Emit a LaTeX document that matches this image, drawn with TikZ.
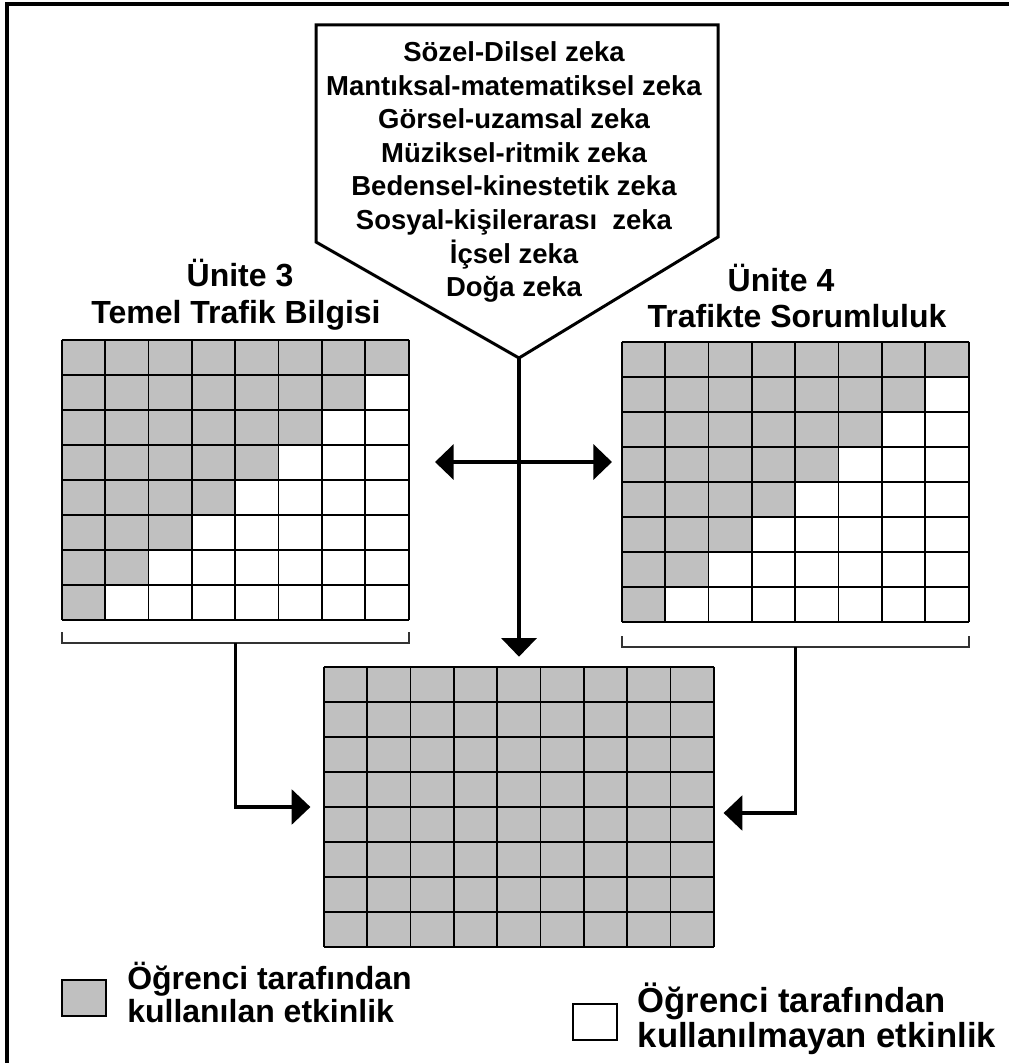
\documentclass[tikz,border=0pt]{standalone}
\usepackage{fontspec}
\setmainfont{Liberation Sans}
\usetikzlibrary{arrows.meta,positioning,calc}
\definecolor{usedgray}{HTML}{C0C0C0}

\tikzset{
  gridline/.style={line width=1.3pt},
  bigtip/.style={-{Triangle[width=26pt,length=14pt]}},
  mainarrow/.style={line width=3.6pt,bigtip},
  sidearrow/.style={line width=2.5pt,bigtip},
  brace/.style={line width=1.5pt,draw=black!80},
  unitgrid/.style={minimum width=260.25pt,minimum height=210pt,inner sep=0pt},
  title/.style={font=\fontsize{24}{30}\selectfont\bfseries,anchor=base,inner sep=0pt},
  legendbox/.style={draw,line width=1.5pt,minimum width=33pt,minimum height=27pt,inner sep=0pt},
  legend/.style={font=\fontsize{24}{24.75}\selectfont\bfseries,align=left,inner sep=0pt},
}

\begin{document}
\begin{tikzpicture}[x=0.75pt,y=-0.75pt]
  \useasboundingbox (0,0) rectangle (1009,1063);
  \draw[line width=3pt] (7,1063) -- (7,4) -- (1009,4);

  % intelligences
  \coordinate (tip) at (519,358);
  \draw[line width=2.25pt] (316,25) -- (718,25) -- (718,237) -- (tip) -- (316,242) -- cycle;
  \node[align=center,font=\fontsize{20.6}{25.2}\selectfont\bfseries] (zeka) at (514,172)
    {Sözel-Dilsel zeka\\Mantıksal-matematiksel zeka\\Görsel-uzamsal zeka\\Müziksel-ritmik zeka\\
     Bedensel-kinestetik zeka\\Sosyal-kişilerarası~~zeka\\İçsel zeka\\Doğa zeka};

  % grids
  \node[unitgrid] (u3) at (235.5,480) {};
  \node[unitgrid] (u4) at (795.5,482) {};
  \node[fill=usedgray,minimum width=292.5pt,minimum height=210pt,inner sep=0pt] (total) at (519,807) {};
  \foreach \g in {u3,u4}{
    \begin{scope}[shift={(\g.north west)},x=32.53pt,y=-26.25pt]
      \foreach \r in {0,...,7}
        \fill[usedgray] (0,\r) rectangle (8-\r,\r+1);
      \foreach \i in {0,...,8}{
        \draw[gridline] (\i,0) -- (\i,8);
        \draw[gridline] (0,\i) -- (8,\i);
      }
    \end{scope}
  }
  \begin{scope}[shift={(total.north west)},x=32.5pt,y=-26.25pt]
    \foreach \i in {0,...,9} \draw[gridline] (\i,0) -- (\i,8);
    \foreach \j in {0,...,8} \draw[gridline] (0,\j) -- (9,\j);
  \end{scope}

  % titles
  \node[title] (u3a) at (240,286) {Ünite 3};
  \node[title] (u3b) at (236,323) {Temel Trafik Bilgisi};
  \node[title] (u4a) at (781,291) {Ünite 4};
  \node[title] (u4b) at (797,327) {Trafikte Sorumluluk};

  % brackets
  \draw[brace] ([yshift=-9pt]u3.south west) -- ([yshift=-17pt]u3.south west)
    -- ([yshift=-17pt]u3.south east) -- ([yshift=-9pt]u3.south east);
  \draw[brace] ([yshift=-10.5pt]u4.south west) -- ([yshift=-18.75pt]u4.south west)
    -- ([yshift=-18.75pt]u4.south east) -- ([yshift=-10.5pt]u4.south east);
  \coordinate (b3) at ([yshift=-17pt]u3.south);
  \coordinate (b4) at ([yshift=-18.75pt]u4.south);

  % arrows
  \draw[sidearrow,shorten >=10pt] (b3) |- (total.west);
  \draw[sidearrow,shorten >=7pt] (b4) |- ([yshift=-4.5pt]total.east);
  \draw[mainarrow,shorten >=7.5pt] (tip) -- (tip |- total.north);
  \draw[mainarrow,{Triangle[width=26pt,length=14pt]}-{Triangle[width=26pt,length=14pt]}]
    (435,462) -- (612,462);

  % legend
  \node[legendbox,fill=usedgray] (usedkey) at (84,998) {};
  \node[legend,right=15pt of usedkey,yshift=4.5pt] (usedtext) {Öğrenci tarafından\\kullanılan etkinlik};
  \node[legendbox,fill=white] (freekey) at (594.5,1022) {};
  \node[legend,font=\fontsize{26}{26.5}\selectfont\bfseries,right=15pt of freekey,yshift=2.5pt] (freetext)
    {Öğrenci tarafından\\kullanılmayan etkinlik};
\end{tikzpicture}
\end{document}
